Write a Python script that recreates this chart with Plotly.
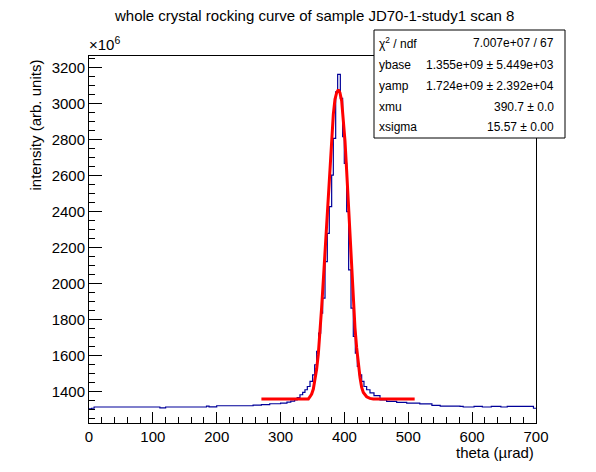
import plotly.graph_objects as go

# histogram: left bin edges (urad) and counts (x1e6)
bin_edges = [0, 4, 8, 111, 120, 184, 188, 200, 257, 270, 283, 300, 310, 316, 322, 326,
             330.4, 334.6, 338.2, 341.9, 346.1, 350.2, 353.4, 356.5, 359.6, 362.8, 365.9,
             369.6, 373.2, 376.3, 380.0, 382.6, 386.3, 389.4, 393.6, 397.2, 399.8, 403.5,
             406.6, 410.3, 413.9, 417.1, 420.2, 423.3, 427.0, 430.6, 434.8, 440.0, 446.3,
             455.7, 466.1, 481.8, 497.5, 518, 537, 550, 581, 586, 603, 616, 630, 645, 655,
             696, 700]
counts = [1303, 1306, 1313, 1308, 1313, 1318, 1314, 1320, 1323, 1326, 1331, 1335, 1340,
          1346, 1352, 1365, 1381, 1394, 1409, 1427, 1455, 1492, 1548, 1622, 1724, 1835,
          1918, 2122, 2279, 2427, 2603, 2807, 3066, 3163, 3029, 2816, 2668, 2400, 2076,
          1863, 1705, 1613, 1539, 1492, 1455, 1427, 1409, 1391, 1376, 1353, 1344, 1339,
          1335, 1330, 1322, 1318, 1316, 1313, 1316, 1313, 1316, 1313, 1317, 1306, 1306]

# fit curve as drawn
fit_theta = [270, 340, 343.5, 346.1, 348.7, 351.3, 353.9, 356.5, 359.1, 361.7, 364.3,
             366.9, 369.6, 372.2, 374.8, 377.4, 380.0, 382.6, 385.2, 387.8, 390.4, 393.0,
             395.7, 398.3, 400.9, 403.5, 406.1, 408.7, 411.3, 413.9, 416.5, 419.1, 421.8,
             424.4, 427.0, 429.6, 434.8, 440.0, 445.2, 450, 510]
fit_vals = [1357, 1357, 1358, 1370, 1385, 1413, 1459, 1524, 1607, 1718, 1866, 2014, 2181,
            2366, 2514, 2681, 2820, 2940, 3024, 3061, 3078, 3061, 3015, 2922, 2792, 2626,
            2440, 2255, 2070, 1903, 1755, 1644, 1551, 1477, 1422, 1394, 1370, 1361, 1358,
            1357, 1357]

stat_names = ["\u03c7<sup>2</sup> / ndf", "ybase", "yamp", "xmu", "xsigma"]
stat_values = ["7.007e+07 / 67", "1.355e+09 \u00b1 5.449e+03", "1.724e+09 \u00b1 2.392e+04",
               "390.7 \u00b1 0.0", "15.57 \u00b1 0.00"]

FONT = "Liberation Sans, Arial, sans-serif"
W, H = 596, 472
L, R, T, B = 89, 60, 56, 49
pw, ph = W - L - R, H - T - B


def px(x):
    return (x - L) / pw


def py(y):
    return (H - B - y) / ph


fig = go.Figure()
fig.add_trace(go.Scatter(x=bin_edges, y=counts, mode="lines", line_shape="hv",
                         line=dict(color="#000099", width=1.2), hoverinfo="skip"))
fig.add_trace(go.Scatter(x=fit_theta, y=fit_vals, mode="lines",
                         line=dict(color="#ff0000", width=3), hoverinfo="skip"))

fig.update_layout(
    width=W, height=H, showlegend=False,
    paper_bgcolor="white", plot_bgcolor="white",
    margin=dict(l=L, r=R, t=T, b=B),
    font=dict(family=FONT, color="black", size=15),
)
fig.update_xaxes(range=[0, 700], dtick=100, ticks="inside", ticklen=11,
                 tickcolor="black", showline=True, linecolor="black", linewidth=1,
                 mirror=True, showgrid=False, zeroline=False,
                 minor=dict(dtick=20, ticks="inside", ticklen=6, tickcolor="black"))
fig.update_yaxes(range=[1224, 3265], dtick=200, ticks="inside", ticklen=13,
                 tickcolor="black", showline=True, linecolor="black", linewidth=1,
                 mirror=True, showgrid=False, zeroline=False,
                 minor=dict(dtick=50, ticks="inside", ticklen=6, tickcolor="black"))

ann = [
    dict(text="whole crystal rocking curve of sample JD70-1-study1 scan 8",
         x=px(112), xanchor="left", y=py(16), font=dict(size=15)),
    dict(text="intensity (arb. units)", textangle=-90, x=px(35), y=py(58),
         yanchor="top", font=dict(size=15)),
    dict(text="theta (\u00b5rad)", x=1, xanchor="right", y=py(452), font=dict(size=15)),
    dict(text="\u00d710<sup>6</sup>", x=px(87), xanchor="left", y=py(55),
         yanchor="bottom", font=dict(size=15)),
]
rows_y = [43, 65, 86, 107, 127]
for name, val, ry in zip(stat_names, stat_values, rows_y):
    ann.append(dict(text=name, x=px(377), xanchor="left", y=py(ry), font=dict(size=12)))
    ann.append(dict(text=val, x=px(556), xanchor="right", y=py(ry), font=dict(size=12)))
for a in ann:
    a.setdefault("xanchor", "center")
    a.setdefault("yanchor", "middle")
    fig.add_annotation(xref="paper", yref="paper", showarrow=False, **a)

fig.add_shape(type="rect", xref="paper", yref="paper", layer="above",
              x0=px(374), x1=px(565), y0=py(138), y1=py(30),
              line=dict(color="black", width=1), fillcolor="white")

# page has a default body margin; drop it so the figure sits at the window corner
fig.write_html("out.html", config={"displayModeBar": False},
               post_script="document.body.style.margin='0px';")
